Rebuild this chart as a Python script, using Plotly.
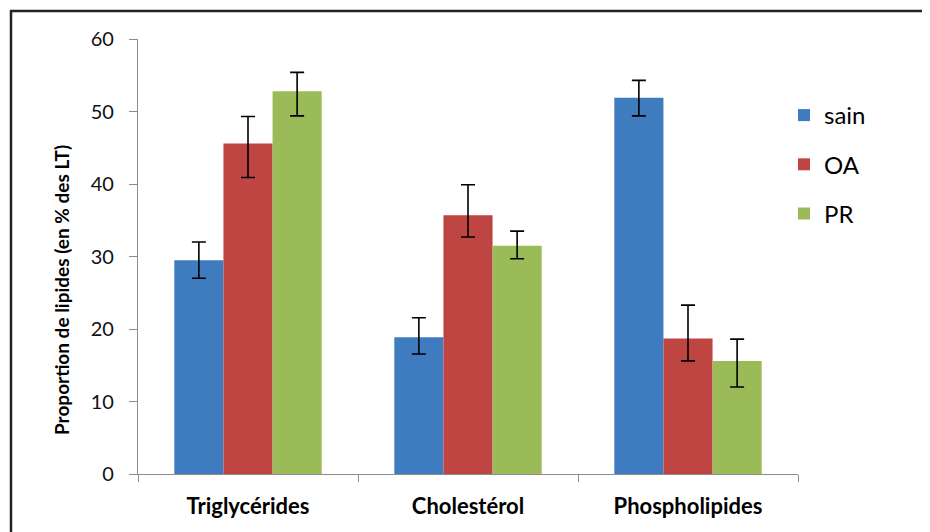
import plotly.graph_objects as go

categories = ["Triglycérides", "Cholestérol", "Phospholipides"]
series_names = ["sain", "OA", "PR"]
sain = [29.5, 18.85, 51.9]
sain_plus = [2.5, 2.7, 2.4]
sain_minus = [2.5, 2.3, 2.5]
oa = [45.6, 35.7, 18.7]
oa_plus = [3.7, 4.2, 4.6]
oa_minus = [4.7, 3.0, 3.1]
pr = [52.8, 31.5, 15.6]
pr_plus = [2.6, 2.0, 3.0]
pr_minus = [3.4, 1.8, 3.6]
y_ticks = [0, 10, 20, 30, 40, 50, 60]

colors = ["#3E7BBF", "#BF4543", "#9BBB59"]
font_family = "Lato, Carlito, 'Open Sans', sans-serif"

# the page body has an 8px margin; work in reference (screen) pixels and offset
OFF = 8
W, H = 930 - OFF, 532 - OFF
L = 138 - OFF
T = 39 - OFF
R = W - (798 - OFF)
B = H - (474 - OFF)
pw, ph = W - L - R, H - T - B


def px_x(p):
    return (p - OFF - L) / pw


def px_y(p):
    return (H - B - (p - OFF)) / ph


fig = go.Figure()
for name, vals, plus, minus, col in [
    (series_names[0], sain, sain_plus, sain_minus, colors[0]),
    (series_names[1], oa, oa_plus, oa_minus, colors[1]),
    (series_names[2], pr, pr_plus, pr_minus, colors[2]),
]:
    fig.add_trace(go.Bar(
        x=categories, y=vals, name=name, legendgroup=name,
        marker=dict(color=col, line=dict(width=0)),
        error_y=dict(type="data", symmetric=False, array=plus, arrayminus=minus,
                     color="#000000", thickness=1.6, width=7),
    ))

fig.update_layout(
    width=W, height=H,
    margin=dict(l=L, r=R, t=T, b=B),
    paper_bgcolor="white", plot_bgcolor="white",
    barmode="group", bargap=0.33, bargroupgap=0,
    font=dict(family=font_family, color="#000000"),
    showlegend=True,
    legend=dict(
        x=px_x(784), y=px_y(93), xanchor="left", yanchor="top",
        font=dict(size=24, color="#000000"),
        tracegroupgap=15, bgcolor="rgba(0,0,0,0)",
    ),
    xaxis=dict(
        showline=True, linecolor="#8C8C8C", linewidth=1.3,
        ticks="outside", tickson="boundaries", ticklen=7, tickcolor="#8C8C8C",
        tickfont=dict(size=22, family=font_family, color="#000000", weight="bold"),
        ticklabelstandoff=12,
        showgrid=False, zeroline=False,
    ),
    yaxis=dict(
        range=[0, 60], tickvals=y_ticks, ticktext=[str(v) for v in y_ticks],
        showline=True, linecolor="#8C8C8C", linewidth=1.3,
        ticks="outside", ticklen=8, tickcolor="#8C8C8C",
        tickfont=dict(size=20, family=font_family, color="#111111"),
        ticklabelstandoff=11,
        showgrid=False, zeroline=False,
    ),
    annotations=[dict(
        text="<b>Proportion de lipides (en % des LT)</b>",
        x=px_x(61), y=px_y(290), xref="paper", yref="paper",
        textangle=-90, showarrow=False, xanchor="center", yanchor="middle",
        font=dict(size=19, family=font_family, color="#000000"),
    )],
    shapes=[
        dict(type="line", xref="paper", yref="paper",
             x0=px_x(10), x1=px_x(945), y0=px_y(11), y1=px_y(11),
             line=dict(color="#222222", width=2.5)),
        dict(type="line", xref="paper", yref="paper",
             x0=px_x(11), x1=px_x(11), y0=px_y(10), y1=px_y(545),
             line=dict(color="#222222", width=2.5)),
    ],
)

fig.write_html("out.html")
